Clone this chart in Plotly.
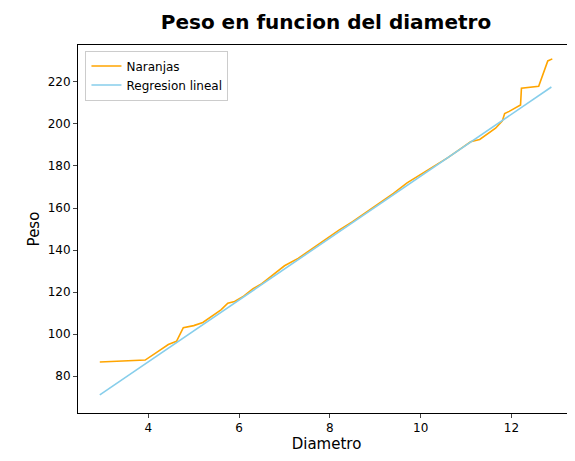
import plotly.graph_objects as go

diam = [2.93, 3.93, 4.2, 4.44, 4.55, 4.62, 4.77, 5.0, 5.2, 5.4, 5.6, 5.75, 5.9, 6.1, 6.3, 6.5, 6.7, 6.85, 7.0, 7.3, 7.6, 7.9, 8.2, 8.5, 8.8, 9.1, 9.4, 9.7, 10.0, 10.3, 10.6, 10.9, 11.1, 11.3, 11.5, 11.65, 11.8, 11.85, 11.95, 12.1, 12.2, 12.22, 12.6, 12.8, 12.9]
peso = [86.7, 87.6, 91.5, 95.0, 96.0, 96.5, 103.0, 104.0, 105.5, 108.5, 111.5, 114.7, 115.5, 118.0, 121.5, 124.0, 127.5, 130.0, 132.5, 136.0, 140.5, 145.0, 149.5, 153.5, 158.0, 162.5, 167.0, 172.0, 176.0, 180.0, 184.0, 188.5, 191.5, 192.6, 195.5, 198.0, 201.5, 205.0, 206.0, 208.0, 209.0, 217.0, 218.0, 230.0, 231.0]
reg_x = [2.93, 12.88]
reg_y = [71.0, 217.6]

fig = go.Figure()
fig.add_trace(go.Scatter(x=diam, y=peso, mode="lines", name="Naranjas", line=dict(color="orange", width=1.6)))
fig.add_trace(go.Scatter(x=reg_x, y=reg_y, mode="lines", name="Regresion lineal", line=dict(color="skyblue", width=1.6)))
ax = dict(showgrid=False, zeroline=False, showline=True, linecolor="black", mirror=True, ticks="outside", ticklen=4,
          tickfont=dict(size=12, color="black"), automargin=False)
fig.update_layout(
    width=575, height=461, plot_bgcolor="white", paper_bgcolor="white",
    font=dict(family="DejaVu Sans", color="black"),
    margin=dict(l=70, r=8, t=37, b=56),
    title=dict(text="<b>Peso en funcion del diametro</b>", x=0.553, xanchor="center", y=0.985, yanchor="top", font=dict(size=20)),
    xaxis=dict(ax, range=[2.45, 13.4], tickvals=[4, 6, 8, 10, 12], title=dict(text="Diametro", font=dict(size=15), standoff=4)),
    yaxis=dict(ax, range=[62.4, 237.6], tickvals=[80, 100, 120, 140, 160, 180, 200, 220], title=dict(text="Peso", font=dict(size=15), standoff=4)),
    legend=dict(x=0.015, y=0.985, xanchor="left", yanchor="top", bordercolor="#ccc", borderwidth=1, font=dict(size=12), bgcolor="white"),
    showlegend=True,
)
fig.write_html("out.html")
